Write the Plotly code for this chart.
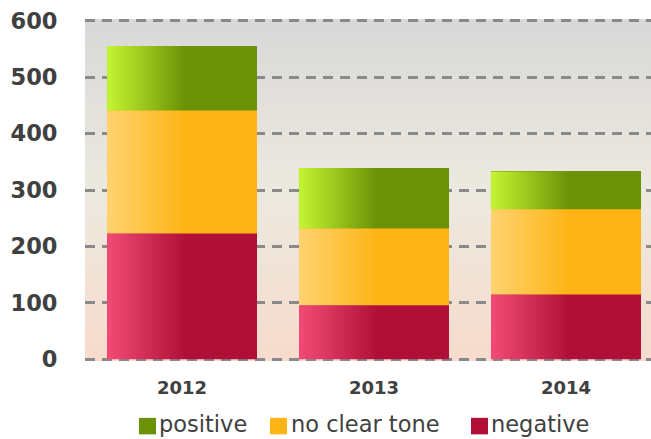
import base64
import plotly.graph_objects as go

years = ["2012", "2013", "2014"]
negative = [223, 96, 115]
no_clear_tone = [218, 136, 151]
positive = [114, 107, 67]
y_ticks = [0, 100, 200, 300, 400, 500, 600]

series = [
    ("negative", negative, "#b01038", ["#f24c76", "#b01038"]),
    ("no clear tone", no_clear_tone, "#feb414", ["#fed370", "#feb414"]),
    ("positive", positive, "#6b9106", ["#c4f631", "#6b9106"]),
]

W, H = 651, 439
L, R, T, B = 85, 651, 19, 360.7     # plot area in pixels
BAR_W = 0.78
xs = list(range(len(years)))

fig = go.Figure()

# base bars (data)
for name, vals, col, _ in series:
    fig.add_trace(go.Bar(x=xs, y=vals, name=name, width=BAR_W, showlegend=False,
                         marker=dict(color=col, line=dict(width=0))))

# gradient fill on each bar segment
base = [0] * len(years)
for name, vals, col, (c0, c1) in series:
    for i, v in enumerate(vals):
        x0, x1 = xs[i] - BAR_W / 2, xs[i] + BAR_W / 2
        y0, y1 = base[i], base[i] + v
        fig.add_trace(go.Scatter(
            x=[x0, x1, x1, x0, x0], y=[y0, y0, y1, y1, y0],
            mode="none", fill="toself", showlegend=False, hoverinfo="skip",
            fillgradient=dict(type="horizontal",
                              colorscale=[[0, c0], [0.52, c1], [1, c1]]),
        ))
        base[i] += v

svg = ('<svg xmlns="http://www.w3.org/2000/svg" viewBox="0 0 100 100" '
       'preserveAspectRatio="none" width="100" height="100"><defs>'
       '<linearGradient id="g" x1="0" y1="0" x2="0" y2="1">'
       '<stop offset="0" stop-color="#d8d8d8"/>'
       '<stop offset="0.5" stop-color="#ece9df"/>'
       '<stop offset="1" stop-color="#f8dbcd"/>'
       '</linearGradient></defs>'
       '<rect width="100" height="100" fill="url(#g)"/></svg>')
src = "data:image/svg+xml;base64," + base64.b64encode(svg.encode()).decode()


def px_x(p):
    return (p - L) / (R - L)


def px_y(p):
    return (B - p) / (B - T)


# custom legend (order: positive, no clear tone, negative)
legend_sq_x = [139, 270, 471]
legend_txt_x = [157, 289, 489]
shapes, annotations = [], []
for k, (name, vals, col, _) in enumerate(reversed(series)):
    shapes.append(dict(type="rect", xref="paper", yref="paper",
                       x0=px_x(legend_sq_x[k]), x1=px_x(legend_sq_x[k] + 17),
                       y0=px_y(434), y1=px_y(417.5),
                       fillcolor=col, line=dict(width=0), layer="above"))
    annotations.append(dict(text=name, xref="paper", yref="paper",
                            x=px_x(legend_txt_x[k]), y=px_y(424),
                            xanchor="left", yanchor="middle", showarrow=False,
                            font=dict(size=22.5, family="DejaVu Sans", color="#404040")))

fig.update_layout(
    width=W, height=H,
    barmode="stack",
    bargap=0,
    margin=dict(l=L, r=W - R, t=T, b=H - B),
    paper_bgcolor="white",
    plot_bgcolor="rgba(0,0,0,0)",
    font=dict(family="DejaVu Sans", color="#404040"),
    images=[dict(source=src, xref="paper", yref="paper", x=0, y=1,
                 sizex=1, sizey=1, sizing="stretch", layer="below",
                 xanchor="left", yanchor="top")],
    xaxis=dict(
        range=[-0.505, 2.443], tickvals=xs, ticktext=years, automargin=False,
        showgrid=False, zeroline=False, showline=False,
        tickfont=dict(size=18, family="DejaVu Sans", color="#404040", weight="bold"),
        ticks="outside", ticklen=10, tickcolor="rgba(0,0,0,0)",
    ),
    yaxis=dict(
        range=[-3, 603], tickvals=y_ticks, automargin=False,
        showgrid=True, gridcolor="#8a8a8a", gridwidth=2.5, griddash="10px,7px",
        zeroline=False, showline=False,
        tickfont=dict(size=22.5, family="DejaVu Sans", color="#404040", weight="bold"),
        ticks="outside", ticklen=22, tickcolor="rgba(0,0,0,0)",
    ),
    shapes=shapes,
    annotations=annotations,
    showlegend=False,
)

fig.write_html(
    "out.html",
    config={"displayModeBar": False},
    post_script="document.body.style.margin='0';document.body.style.overflow='hidden';",
)
